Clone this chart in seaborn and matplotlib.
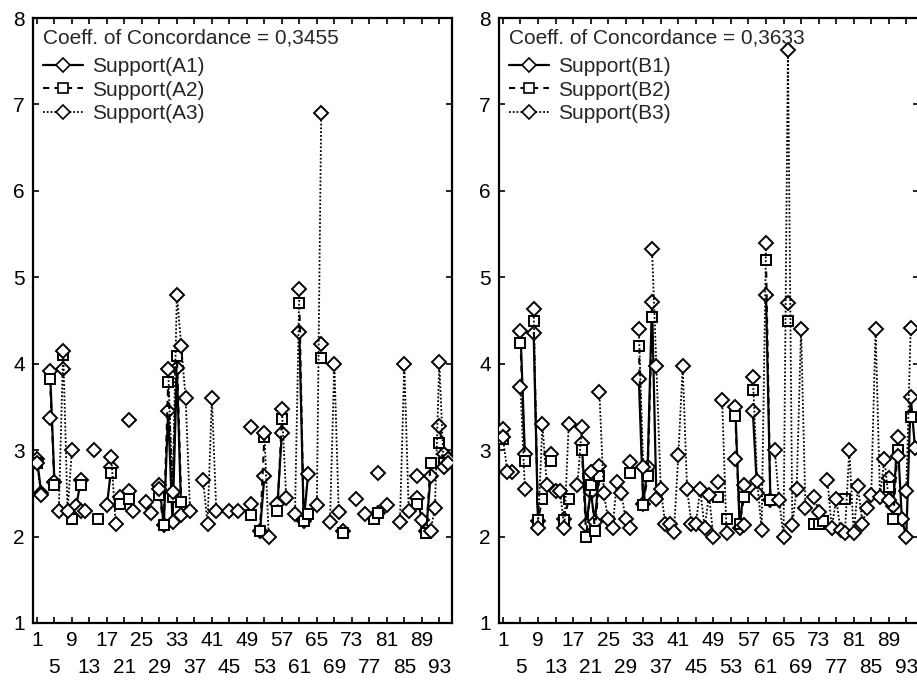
import numpy as np
import pandas as pd
import matplotlib.pyplot as plt
from matplotlib.lines import Line2D
import seaborn as sns

N = None
cases = list(range(1, 96))

# left panel: supports A1, A2, A3 (None = missing case)
sup_a1 = [2.90, 2.50, N, 3.92, 2.63, N, 3.94, N, N, 2.35,
          2.65, N, N, N, N, N, 2.36, 2.80, N, 2.46,
          N, 2.53, 2.30, N, N, N, N, N, 2.60, 2.13,
          3.45, 2.17, 3.95, 2.25, N, N, N, N, N, N,
          N, N, N, N, N, N, N, N, N, 2.38,
          N, 2.06, 2.70, N, N, 2.38, 3.20, N, N, N,
          4.37, 2.18, 2.72, N, N, 4.23, N, N, N, N,
          2.06, N, N, N, N, N, N, N, 2.27, N,
          N, N, N, N, N, N, N, 2.45, 2.19, 2.07,
          2.70, N, 3.28, 2.95, 2.90]
sup_a2 = [2.85, N, N, 3.82, 2.60, N, 4.10, N, 2.20, N,
          2.60, N, N, N, 2.20, N, N, 2.73, N, 2.38,
          N, 2.44, N, N, N, N, N, N, 2.48, 2.13,
          3.79, 2.46, 4.09, 2.40, N, N, N, N, N, N,
          N, N, N, N, N, N, N, N, N, 2.25,
          N, 2.06, 3.15, N, N, 2.30, 3.36, N, N, N,
          4.70, 2.18, 2.26, N, N, 4.07, N, N, N, N,
          2.04, N, N, N, N, N, N, 2.20, 2.27, N,
          N, N, N, N, N, N, N, 2.38, N, 2.04,
          2.85, N, 3.08, 2.85, N]
sup_a3 = [2.85, 2.48, N, 3.37, N, 2.30, 4.15, 2.30, 3.00, N,
          2.30, 2.30, N, 3.00, N, N, N, 2.92, 2.15, N,
          N, 3.35, N, N, N, 2.40, 2.27, N, 2.55, N,
          3.94, 2.52, 4.80, 4.20, 3.60, 2.30, N, N, 2.65, 2.15,
          3.60, 2.30, N, N, 2.30, N, 2.30, N, N, 3.27,
          N, N, 3.20, 2.00, N, N, 3.48, 2.45, N, 2.26,
          4.86, N, N, N, 2.37, 6.90, N, 2.17, 4.00, 2.28,
          N, N, N, 2.43, N, 2.26, N, N, 2.73, N,
          2.37, N, N, 2.17, 4.00, 2.30, N, 2.70, N, N,
          2.07, 2.33, 4.02, 2.80, 2.85]

# right panel: supports B1, B2, B3
sup_b1 = [3.25, N, 2.75, N, 4.38, 2.95, N, 4.36, 2.18, N,
          N, 2.95, N, N, 2.20, N, N, N, 3.08, 2.13,
          2.52, 2.17, 2.82, N, N, N, N, N, N, 2.86,
          N, 3.82, 2.38, 2.80, 4.71, 2.44, N, N, N, N,
          N, N, N, N, N, N, N, N, N, 2.63,
          N, N, N, 3.50, 2.10, 2.60, N, 3.45, 2.50, N,
          4.80, 2.42, N, N, N, 4.70, N, N, N, N,
          N, N, N, N, N, N, N, N, N, N,
          N, N, N, N, N, N, N, N, 2.68, 2.35,
          3.15, 2.20, 2.00, 3.62, 3.02]
sup_b2 = [3.13, N, N, N, 4.24, 2.88, N, 4.50, 2.19, 2.44,
          N, 2.88, N, N, 2.19, 2.44, N, N, 3.00, 2.00,
          2.60, 2.07, 2.70, N, N, N, N, N, N, 2.74,
          N, 4.20, 2.37, 2.70, 4.54, N, N, N, N, N,
          N, N, N, N, N, N, N, N, N, 2.46,
          N, 2.20, N, 3.40, 2.15, 2.46, N, 3.70, N, N,
          5.20, 2.42, N, N, N, 4.50, N, N, N, N,
          N, 2.15, 2.15, 2.18, N, N, N, N, 2.44, N,
          N, N, N, N, N, N, N, N, 2.57, 2.20,
          3.00, N, N, 3.38, N]
sup_b3 = [3.15, 2.75, N, N, 3.73, 2.55, N, 4.63, 2.10, 3.30,
          2.60, N, 2.53, 2.53, 2.10, 3.30, N, 2.60, 3.27, N,
          2.75, N, 3.67, 2.50, 2.20, 2.10, 2.63, 2.50, 2.20, 2.10,
          N, 4.40, 2.80, N, 5.33, 3.97, 2.55, 2.15, 2.15, 2.05,
          2.94, 3.97, 2.55, 2.15, 2.15, 2.55, 2.10, 2.48, 2.00, N,
          3.58, 2.04, N, 2.90, N, 2.13, N, 3.85, 2.64, 2.08,
          5.40, N, 3.00, 2.42, 2.00, 7.63, 2.13, 2.55, 4.40, 2.33,
          N, 2.46, 2.28, N, 2.66, 2.10, 2.44, 2.08, 2.04, 3.00,
          2.04, 2.58, 2.15, 2.33, 2.48, 4.40, 2.46, 2.90, 2.42, N,
          2.93, N, 2.53, 4.41, N]

panels = [
    ("Coeff. of Concordance = 0,3455", ["Support(A1)", "Support(A2)", "Support(A3)"],
     [sup_a1, sup_a2, sup_a3]),
    ("Coeff. of Concordance = 0,3633", ["Support(B1)", "Support(B2)", "Support(B3)"],
     [sup_b1, sup_b2, sup_b3]),
]

styles = [
    dict(marker="D", markersize=7.5, linestyle="-", linewidth=1.6),
    dict(marker="s", markersize=7.5, linestyle=(0, (3, 2.5)), linewidth=1.5),
    dict(marker="D", markersize=7.5, linestyle=(0, (1, 1.1)), linewidth=1.3),
]

sns.set_style("ticks")
plt.rcParams["font.family"] = ["Liberation Sans", "DejaVu Sans"]

fig = plt.figure(figsize=(9.17, 6.83), dpi=100)
# right panel runs just past the right edge of the figure, as in the source
ax_pos = [[33 / 917, 60 / 683, 419 / 917, 605 / 683],
          [499 / 917, 60 / 683, 420 / 917, 605 / 683]]

# alternate tick labels on two rows: 1, 9, 17 ... on top row, 5, 13, 21 ... below
row1 = list(range(1, 94, 8))
row2 = list(range(5, 94, 8))

for pos, (title, names, series) in zip(ax_pos, panels):
    ax = fig.add_axes(pos)
    handles = []
    for name, vals, st in zip(names, series, styles):
        df = pd.DataFrame({"case": cases, "value": np.array(vals, dtype=float)})
        df["seg"] = df["value"].isna().cumsum()
        df = df.dropna()
        sns.lineplot(data=df, x="case", y="value", units="seg", estimator=None,
                     ax=ax, color="black", markerfacecolor="white",
                     markeredgecolor="black", markeredgewidth=1.4, zorder=3,
                     **st)
        handles.append(Line2D([], [], color="black", markerfacecolor="white",
                              markeredgecolor="black", markeredgewidth=1.2,
                              label=name, **st))
    ax.set_xlim(0.1, 95.9)
    ax.set_ylim(1, 8)
    ax.set_xticks(row1)
    ax.set_xticklabels([str(v) for v in row1])
    ax.set_xticks(row2, minor=True)
    ax.set_xticklabels([str(v) for v in row2], minor=True)
    ax.set_yticks(range(1, 9))
    ax.set_xlabel("")
    ax.set_ylabel("")
    ax.tick_params(which="both", direction="in", length=4, width=1.2,
                   top=True, right=True, labelsize=15, colors="black")
    ax.tick_params(axis="y", pad=6)
    ax.tick_params(axis="x", which="major", pad=6)
    ax.tick_params(axis="x", which="minor", pad=25)
    for sp in ax.spines.values():
        sp.set_visible(True)
        sp.set_linewidth(1.6)
        sp.set_color("black")
    leg = ax.legend(handles=handles, title=title, loc="upper left",
                    frameon=False, fontsize=15, title_fontsize=15,
                    alignment="left", handlelength=1.9, handletextpad=0.45,
                    labelspacing=0.22, borderaxespad=0.3, borderpad=0.2)
    leg._legend_box.sep = 7

fig.savefig("out.png", dpi=100)
